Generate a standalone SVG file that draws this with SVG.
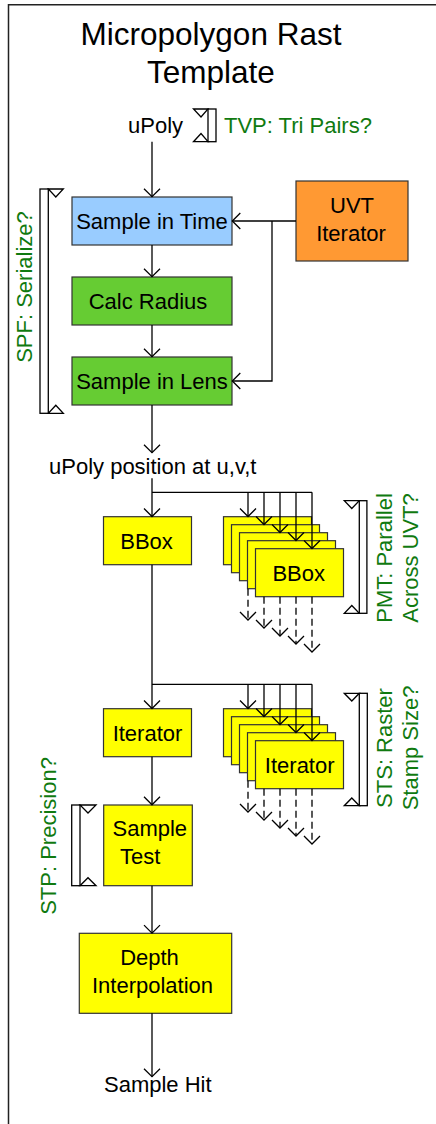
<svg xmlns="http://www.w3.org/2000/svg" width="436" height="1124" viewBox="0 0 436 1124">
<style>
text{font-family:"Liberation Sans",Arial,sans-serif;font-size:22px;fill:#000}
.title{font-size:31.5px;text-anchor:middle}
.g{fill:#107a10}
.mid{text-anchor:middle}
.box{stroke:#333;stroke-width:1.2}
.blue{fill:#99ccff}.green{fill:#66cc33}.orange{fill:#ff9933}.yellow{fill:#ffff00}
.ln{fill:none;stroke:#000;stroke-width:1.3}
.dash{stroke-dasharray:7,4}
.br{fill:#fff;stroke:#000;stroke-width:1.3}
.frame{fill:none;stroke:#222;stroke-width:1.5}
</style>
<defs>
<marker id="ah" markerUnits="userSpaceOnUse" markerWidth="20" markerHeight="20" viewBox="-10 -10 20 20" refX="0" refY="0" orient="auto" overflow="visible">
<path d="M-8,-8 L0,0 L-8,8" fill="none" stroke="#000" stroke-width="1.3"/>
</marker>
</defs>
<path class="frame" d="M8.5,1124 V4.8 H436"/>
<g id="title">
<text class="title" x="211" y="45">Micropolygon Rast</text>
<text class="title" x="211" y="83">Template</text>
</g>
<g id="labels">
<text x="128" y="133">uPoly</text>
<text x="49" y="474">uPoly position at u,v,t</text>
<text x="104" y="1092">Sample Hit</text>
</g>
<g id="tvp">
<rect class="br" x="208" y="109" width="8" height="32.7"/>
<polygon class="br" points="193.5,109 208,109 201,117"/>
<polygon class="br" points="193.5,141.7 208,141.7 201,133.5"/>
<text class="g" x="224" y="133">TVP: Tri Pairs?</text>
</g>
<g id="spf">
<rect class="br" x="40" y="189" width="8.3" height="224.3"/>
<polygon class="br" points="48.3,189 63.3,189 55.8,197"/>
<polygon class="br" points="48.3,413.3 63.3,413.3 55.8,405.3"/>
<text class="g mid" transform="translate(32,287) rotate(-90)">SPF: Serialize?</text>
</g>
<g id="pmt">
<rect class="br" x="359.3" y="500.7" width="7.6" height="112.6"/>
<polygon class="br" points="344.3,500.7 359.3,500.7 351.8,508.5"/>
<polygon class="br" points="344.3,613.3 359.3,613.3 351.8,605.5"/>
<text class="g mid" transform="translate(392,558) rotate(-90)">PMT: Parallel</text>
<text class="g mid" transform="translate(418,558) rotate(-90)">Across UVT?</text>
</g>
<g id="sts">
<rect class="br" x="359.3" y="693.3" width="8" height="112.4"/>
<polygon class="br" points="344.3,693.3 359.3,693.3 351.8,701"/>
<polygon class="br" points="344.3,805.7 359.3,805.7 351.8,798"/>
<text class="g mid" transform="translate(392,748) rotate(-90)">STS: Raster</text>
<text class="g mid" transform="translate(418,748) rotate(-90)">Stamp Size?</text>
</g>
<g id="stp">
<rect class="br" x="71.7" y="805" width="8.3" height="80.7"/>
<polygon class="br" points="80,805 96,805 88,813"/>
<polygon class="br" points="80,885.7 96,885.7 88,877.7"/>
<text class="g mid" transform="translate(55.5,836) rotate(-90)">STP: Precision?</text>
</g>
<g id="sample-time">
<rect class="box blue" x="72" y="197" width="160" height="48"/>
<text class="mid" x="152" y="228.5">Sample in Time</text>
</g>
<g id="uvt-iterator">
<rect class="box orange" x="296" y="181" width="112" height="80"/>
<text class="mid" x="352" y="213">UVT</text>
<text class="mid" x="351" y="241">Iterator</text>
</g>
<g id="calc-radius">
<rect class="box green" x="72" y="277" width="160" height="48"/>
<text class="mid" x="148" y="308.5">Calc Radius</text>
</g>
<g id="sample-lens">
<rect class="box green" x="72" y="357" width="160" height="48"/>
<text class="mid" x="152" y="388.5">Sample in Lens</text>
</g>
<g id="bbox">
<rect class="box yellow" x="103.5" y="516.7" width="88" height="48"/>
<text class="mid" x="146.5" y="548.5">BBox</text>
</g>
<g id="bbox-stack">
<rect class="box yellow" x="223.5" y="516.7" width="88" height="48"/>
<rect class="box yellow" x="231.5" y="524.7" width="88" height="48"/>
<rect class="box yellow" x="239.5" y="532.7" width="88" height="48"/>
<rect class="box yellow" x="247.5" y="540.7" width="88" height="48"/>
<rect class="box yellow" x="255.5" y="548.7" width="88" height="48"/>
<text class="mid" x="298.7" y="580.5">BBox</text>
</g>
<g id="iterator">
<rect class="box yellow" x="103.5" y="708.7" width="88" height="48"/>
<text class="mid" x="147.5" y="740.5">Iterator</text>
</g>
<g id="iterator-stack">
<rect class="box yellow" x="223.5" y="708.7" width="88" height="48"/>
<rect class="box yellow" x="231.5" y="716.7" width="88" height="48"/>
<rect class="box yellow" x="239.5" y="724.7" width="88" height="48"/>
<rect class="box yellow" x="247.5" y="732.7" width="88" height="48"/>
<rect class="box yellow" x="255.5" y="740.7" width="88" height="48"/>
<text class="mid" x="299.7" y="773">Iterator</text>
</g>
<g id="sample-test">
<rect class="box yellow" x="103.7" y="805" width="88.6" height="80.7"/>
<text x="112.5" y="836">Sample</text>
<text x="120" y="863.5">Test</text>
</g>
<g id="depth-interp">
<rect class="box yellow" x="79.3" y="933.3" width="152.4" height="80"/>
<text class="mid" x="149.5" y="965">Depth</text>
<text class="mid" x="152.5" y="992.5">Interpolation</text>
</g>
<g id="connectors">
<path class="ln" d="M152,141.7 V196.7" marker-end="url(#ah)"/>
<path class="ln" d="M152,245 V276.7" marker-end="url(#ah)"/>
<path class="ln" d="M152,325 V356.7" marker-end="url(#ah)"/>
<path class="ln" d="M152,405 V452.7" marker-end="url(#ah)"/>
<path class="ln" d="M296,221 H232.3" marker-end="url(#ah)"/>
<path class="ln" d="M272,221 V381 H232.3" marker-end="url(#ah)"/>
<path class="ln" d="M152,478.3 V516.5" marker-end="url(#ah)"/>
<path class="ln" d="M152,492.3 H312"/>
<path class="ln" d="M248,492.3 V516.5" marker-end="url(#ah)"/>
<path class="ln" d="M264,492.3 V524.5" marker-end="url(#ah)"/>
<path class="ln" d="M280,492.3 V532.5" marker-end="url(#ah)"/>
<path class="ln" d="M296,492.3 V540.5" marker-end="url(#ah)"/>
<path class="ln" d="M312,492.3 V548.5" marker-end="url(#ah)"/>
<path class="ln dash" d="M248,588.7 V620" marker-end="url(#ah)"/>
<path class="ln dash" d="M264,596.7 V628" marker-end="url(#ah)"/>
<path class="ln dash" d="M280,596.7 V636" marker-end="url(#ah)"/>
<path class="ln dash" d="M296,596.7 V644" marker-end="url(#ah)"/>
<path class="ln dash" d="M312,596.7 V652" marker-end="url(#ah)"/>
<path class="ln" d="M152,564.7 V708.5" marker-end="url(#ah)"/>
<path class="ln" d="M152,684.3 H312"/>
<path class="ln" d="M248,684.3 V708.5" marker-end="url(#ah)"/>
<path class="ln" d="M264,684.3 V716.5" marker-end="url(#ah)"/>
<path class="ln" d="M280,684.3 V724.5" marker-end="url(#ah)"/>
<path class="ln" d="M296,684.3 V732.5" marker-end="url(#ah)"/>
<path class="ln" d="M312,684.3 V740.5" marker-end="url(#ah)"/>
<path class="ln dash" d="M248,780.7 V812" marker-end="url(#ah)"/>
<path class="ln dash" d="M264,788.7 V820" marker-end="url(#ah)"/>
<path class="ln dash" d="M280,788.7 V828" marker-end="url(#ah)"/>
<path class="ln dash" d="M296,788.7 V836" marker-end="url(#ah)"/>
<path class="ln dash" d="M312,788.7 V844" marker-end="url(#ah)"/>
<path class="ln" d="M152,756.7 V804.8" marker-end="url(#ah)"/>
<path class="ln" d="M152,885.7 V933.1" marker-end="url(#ah)"/>
<path class="ln" d="M152,1013.3 V1076.7" marker-end="url(#ah)"/>
</g>
</svg>
